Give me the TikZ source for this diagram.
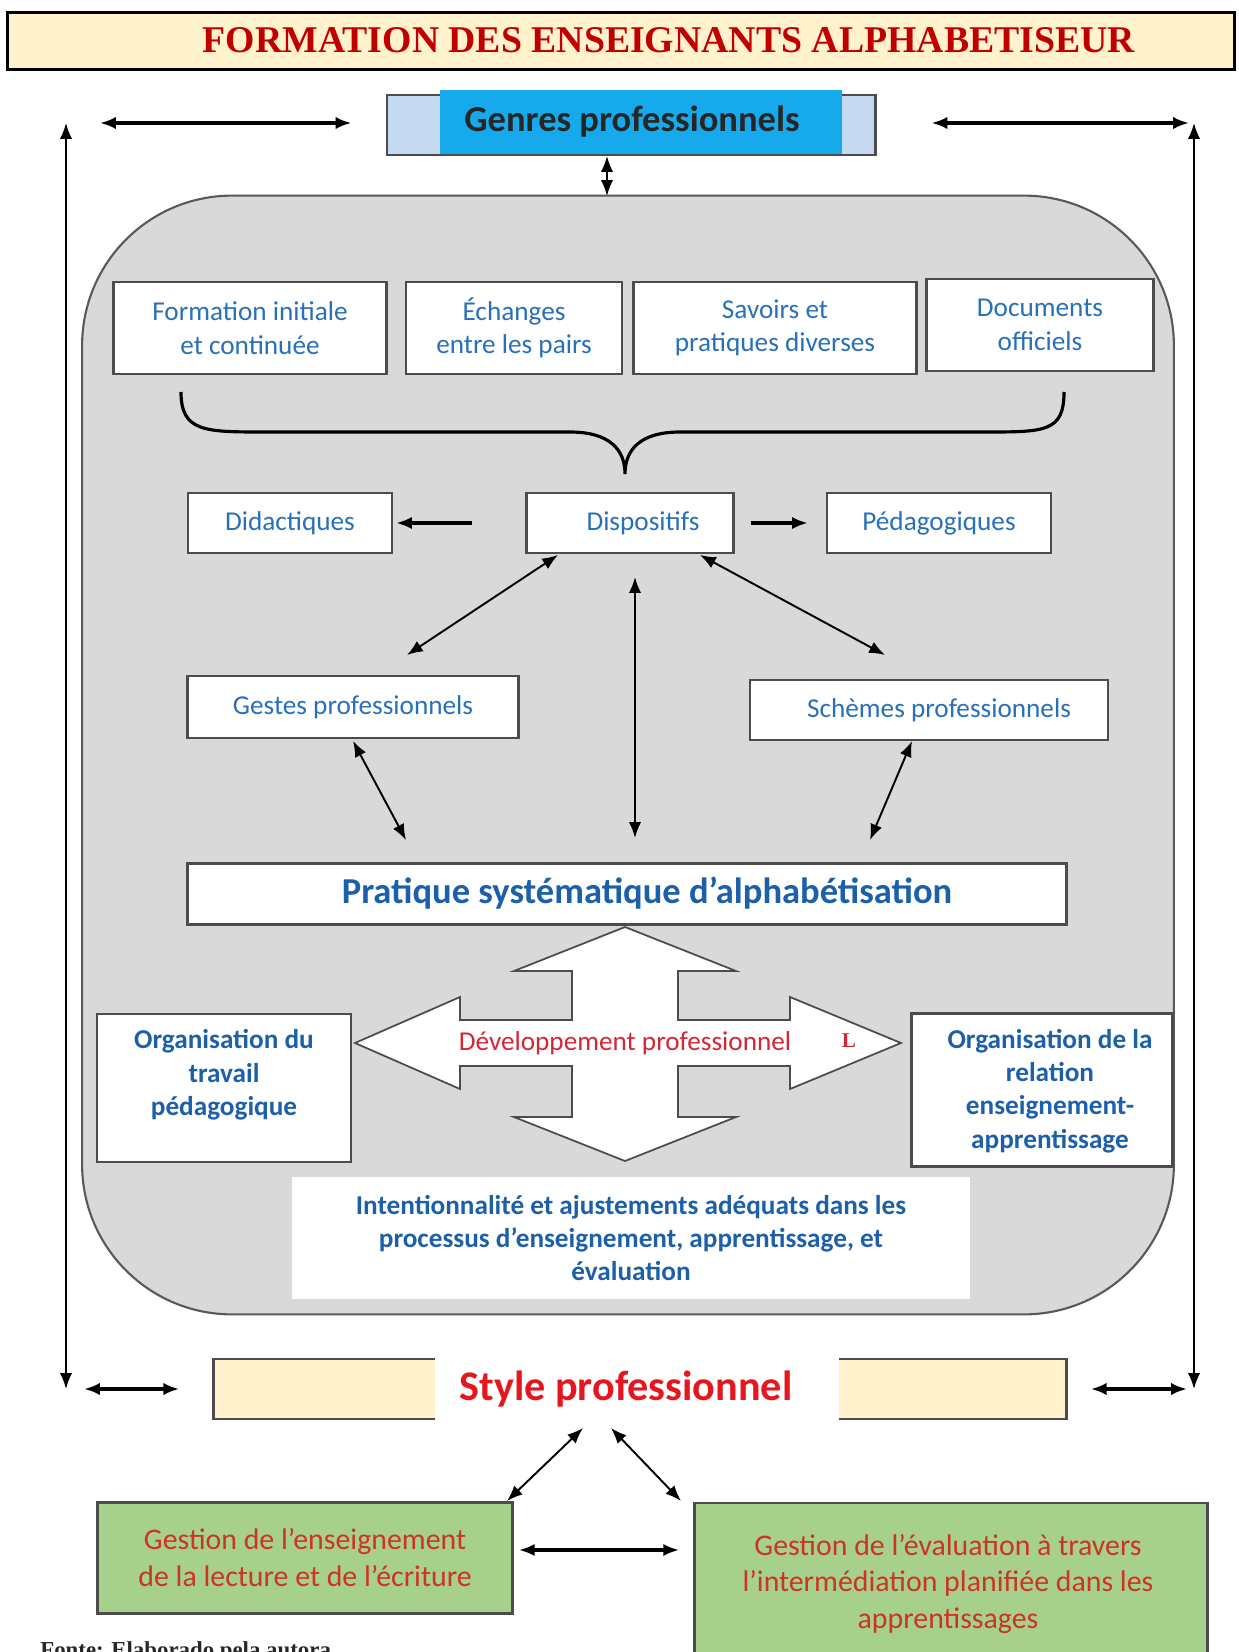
\documentclass[tikz,border=0pt]{standalone}
\usepackage{fontspec}
\setmainfont{Carlito}
\newfontfamily\serifhead{Liberation Serif}
\usetikzlibrary{arrows.meta}

\definecolor{txtblue}{RGB}{40,112,184}
\definecolor{boldblue}{RGB}{28,96,170}
\definecolor{stylered}{RGB}{230,22,30}
\definecolor{devred}{RGB}{212,38,52}
\definecolor{greenred}{RGB}{204,52,36}
\definecolor{titlered}{RGB}{192,0,0}
\definecolor{panelgray}{RGB}{217,217,217}
\definecolor{cream}{RGB}{255,242,204}
\definecolor{paleblue}{RGB}{197,217,241}
\definecolor{brightblue}{RGB}{22,170,236}
\definecolor{boxgreen}{RGB}{166,208,140}

\tikzset{
  whitebox/.style={rectangle,draw=black!70,fill=white,line width=1.3pt,align=center,
    text=txtblue,font=\fontsize{15.5}{19}\selectfont},
  boldbox/.style={whitebox,text=boldblue,font=\bfseries\fontsize{15.5}{19}\selectfont},
  greenbox/.style={rectangle,draw=black!70,fill=boxgreen,line width=1.6pt,align=center,
    text=greenred,font=\fontsize{17}{21}\selectfont},
  link/.style={line width=1.1pt},
  boldlink/.style={line width=1.9pt},
}

\begin{document}
\begin{tikzpicture}[x=0.02cm,y=-0.02cm,>={Latex[length=9pt,width=7pt]}]
\useasboundingbox (0,0) rectangle (1239,1652);
\clip (0,0) rectangle (1239,1652);

% title node
\node[rectangle,draw=black,line width=1.5pt,fill=cream,minimum width=24.54cm,minimum height=1.14cm] (title box) at (621,41) {};
\node[text=titlered,font=\serifhead\bfseries\fontsize{21.5}{24}\selectfont] (title) at (669,40) {FORMATION DES ENSEIGNANTS ALPHABETISEUR};

% genres node
\node[rectangle,draw=black!70,line width=1.2pt,fill=paleblue,minimum width=9.78cm,minimum height=1.2cm] (genres back) at (631,125) {};
\node[rectangle,fill=brightblue,minimum width=8.06cm,minimum height=1.3cm] (genres box) at (641,122) {};
\node[text=black!85,font=\bfseries\fontsize{20.8}{24}\selectfont] (genres) at (632,122) {Genres professionnels};

% grey panel node
\node[rectangle,draw=black!65,line width=1.2pt,fill=panelgray,rounded corners=3cm,minimum width=21.84cm,minimum height=22.38cm] (panel) at (628,755) {};

% outer frame arrow ends
\coordinate (left top) at (66,123);
\coordinate (left bottom) at (66,1389);
\coordinate (right top) at (1194,123);
\coordinate (right bottom) at (1194,1389);

\draw[link,<->] (left top) -- (left bottom);
\draw[link,<->] (right top) -- (right bottom);
\draw[boldlink,<->,shorten <=0.68cm,shorten >=0.68cm] (left top) -- (genres back.west |- left top);
\draw[boldlink,<->,shorten <=1.1cm,shorten >=0.1cm] (genres back.east |- right top) -- (right top);

% genres to panel
\coordinate (genres foot) at (607,156);
\coordinate (panel head) at (607,196);
\draw[link,<->] (genres foot) -- (panel head);

% sources nodes
\node[whitebox,minimum width=5.46cm,minimum height=1.84cm] (formation) at (250,328) {Formation initiale\\et continuée};
\node[whitebox,minimum width=4.32cm,minimum height=1.84cm] (echanges) at (514,328) {Échanges\\entre les pairs};
\node[whitebox,minimum width=5.66cm,minimum height=1.84cm] (savoirs) at (775,328) {Savoirs et\\pratiques diverses};
\node[whitebox,minimum width=4.54cm,minimum height=1.84cm] (documents) at (1040,325) {Documents\\officiels};

% brace
\draw[line width=1.8pt] (181,392) .. controls (181,432) and (205,432) .. (265,432) -- (570,432)
  .. controls (610,432) and (625,450) .. (625,474)
  .. controls (625,450) and (640,432) .. (680,432) -- (985,432)
  .. controls (1045,432) and (1064,432) .. (1064,392);

% dispositifs row
\node[whitebox,minimum width=4.08cm,minimum height=1.2cm] (didactiques) at (290,523) {Didactiques};
\node[whitebox,minimum width=4.14cm,minimum height=1.2cm] (dispositifs box) at (630,523) {};
\node[text=txtblue,font=\fontsize{15.5}{19}\selectfont] (dispositifs) at (643,523) {Dispositifs};
\node[whitebox,minimum width=4.48cm,minimum height=1.2cm] (pedagogiques) at (939,523) {Pédagogiques};

\draw[boldlink,->,shorten <=1.06cm,shorten >=0.06cm] (dispositifs box.west) -- (didactiques.east);
\draw[boldlink,->,shorten <=0.32cm,shorten >=0.36cm] (dispositifs box.east) -- (pedagogiques.west);

% gestes and schemes nodes
\node[whitebox,minimum width=6.62cm,minimum height=1.24cm] (gestes) at (353,707) {Gestes professionnels};
\node[whitebox,minimum width=7.16cm,minimum height=1.2cm] (schemes box) at (929,710) {};
\node[text=txtblue,font=\fontsize{15.5}{19}\selectfont] (schemes) at (939,710) {Schèmes professionnels};

% pratique node
\node[whitebox,minimum width=17.58cm,minimum height=1.22cm] (pratique box) at (627,894) {};
\node[text=boldblue,font=\bfseries\fontsize{20.8}{24}\selectfont] (pratique) at (647,893) {Pratique systématique d’alphabétisation};

% middle arrow ends
\coordinate (disp sw) at (558,555);
\coordinate (disp se) at (700,555);
\coordinate (disp s) at (635,577);
\coordinate (gestes top) at (407,655);
\coordinate (schemes top) at (885,655);
\coordinate (gestes foot) at (353,741);
\coordinate (schemes foot) at (912,741);
\coordinate (prat left) at (406,840);
\coordinate (prat mid) at (635,838);
\coordinate (prat right) at (870,840);

\draw[link,<->] (disp sw) -- (gestes top);
\draw[link,<->] (disp se) -- (schemes top);
\draw[link,<->] (disp s) -- (prat mid);
\draw[link,<->] (gestes foot) -- (prat left);
\draw[link,<->] (schemes foot) -- (prat right);

% developpement cross arrow
\draw[draw=black!70,line width=1pt,fill=white] (625,927) -- (736,971) -- (678,971) -- (678,1020) -- (790,1020)
  -- (790,997) -- (901,1043) -- (790,1089) -- (790,1066) -- (678,1066) -- (678,1117) -- (736,1117)
  -- (625,1161) -- (514,1117) -- (572,1117) -- (572,1066) -- (460,1066) -- (460,1089) -- (355,1043)
  -- (460,997) -- (460,1020) -- (572,1020) -- (572,971) -- (514,971) -- cycle;
\node[text=devred,font=\fontsize{15.5}{19}\selectfont] (developpement) at (625,1043) {Développement professionnel};
\node[text=devred,font=\serifhead\bfseries\fontsize{12}{14}\selectfont] (stray) at (849,1041) {L};

% organisation nodes
\node[whitebox,minimum width=5.08cm,minimum height=2.96cm] (org travail box) at (224,1088) {};
\node[text=boldblue,align=center,font=\bfseries\fontsize{15.5}{19}\selectfont] (org travail) at (224,1075) {Organisation du\\travail\\pédagogique};
\node[whitebox,minimum width=5.22cm,minimum height=3.06cm] (org relation box) at (1042,1090) {};
\node[text=boldblue,align=center,font=\bfseries\fontsize{15.5}{19}\selectfont] (org relation) at (1050,1091) {Organisation de la\\relation\\enseignement-\\apprentissage};

% intentionnalite node
\node[boldbox,draw=none,minimum width=13.58cm,minimum height=2.44cm] (intention) at (631,1238) {Intentionnalité et ajustements adéquats dans les\\processus d’enseignement, apprentissage, et\\évaluation};

% style node
\node[rectangle,draw=black!70,line width=1.5pt,fill=cream,minimum width=17.06cm,minimum height=1.2cm] (style back) at (640,1389) {};
\node[rectangle,fill=white,minimum width=8.1cm,minimum height=1.6cm] (style box) at (637,1389) {};
\node[text=stylered,font=\bfseries\fontsize{24}{28}\selectfont] (style) at (626,1389) {Style professionnel};

\draw[boldlink,<->,shorten <=0.36cm,shorten >=0.66cm] (left bottom) -- (style back.west);
\draw[boldlink,<->,shorten <=0.46cm,shorten >=0.14cm] (style back.east) -- (right bottom);

% gestion nodes
\node[greenbox,minimum width=8.3cm,minimum height=2.22cm] (gestion lecture) at (305,1558) {Gestion de l’enseignement\\de la lecture et de l’écriture};
\node[greenbox,minimum width=10.26cm,minimum height=3.24cm] (gestion eval box) at (951,1584) {};
\node[text=greenred,align=center,font=\fontsize{17}{21}\selectfont] (gestion eval) at (948,1584) {Gestion de l’évaluation à travers\\l’intermédiation planifiée dans les\\apprentissages};

\coordinate (style sw) at (583,1428);
\coordinate (style se) at (611,1428);
\coordinate (lecture top) at (507,1501);
\coordinate (eval top) at (681,1501);
\draw[link,<->] (style sw) -- (lecture top);
\draw[link,<->] (style se) -- (eval top);
\draw[boldlink,<->,shorten <=0.1cm,shorten >=0.28cm] (gestion lecture.east |- 0,1550) -- (gestion eval box.west |- 0,1550);

% source note
\node[anchor=north west,inner sep=0pt,text=black!85,font=\serifhead\bfseries\fontsize{13}{15}\selectfont] (fonte) at (40,1641) {Fonte: Elaborado pela autora};

\end{tikzpicture}
\end{document}
